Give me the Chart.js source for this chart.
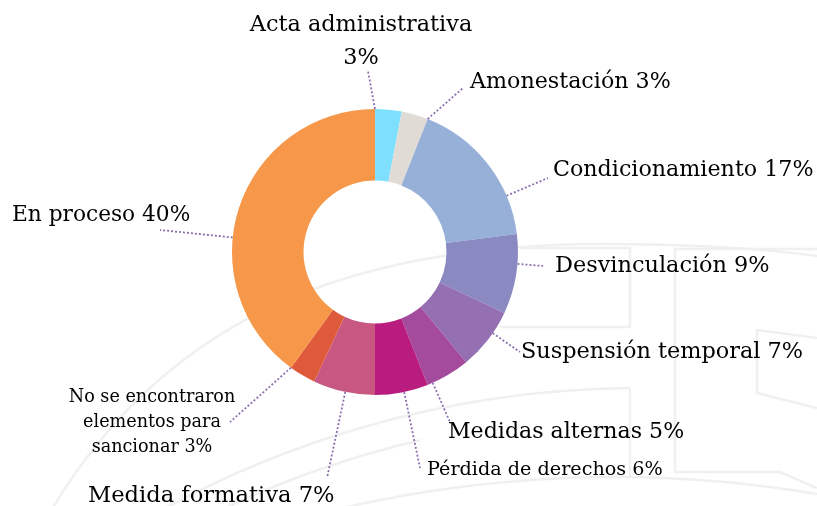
<!DOCTYPE html>
<html>
<head>
<meta charset="utf-8">
<script src="https://cdn.jsdelivr.net/npm/chart.js@4"></script>
<style>
  html, body { margin: 0; padding: 0; background: #fff; }
  #wrap { width: 817px; height: 506px; }
</style>
</head>
<body>
<div id="wrap"><canvas id="sancionesChart"></canvas></div>
<script>
const categorias = [
    "Acta administrativa",
    "Amonestación",
    "Condicionamiento",
    "Desvinculación",
    "Suspensión temporal",
    "Medidas alternas",
    "Pérdida de derechos",
    "Medida formativa",
    "No se encontraron elementos para sancionar",
    "En proceso",
];
const porcentajes = [3, 3, 17, 9, 7, 5, 6, 7, 3, 40];

const colores = [
    "#7fdffe", "#e0dcd5", "#97b0d8", "#8a89c2", "#946fb2",
    "#a44b9e", "#b81c7e", "#c85782", "#de5a3b", "#f69749",
];

// how each label is written and where it sits (x, y of the text, align, size, end of the leader line)
const etiquetas = [
    { lines: ["Acta administrativa", "3%"], x: 361, y: 25, lh: 33, align: "center", size: 22.4, end: [368, 71] },
    { lines: ["Amonestación 3%"], x: 470, y: 82, align: "left", size: 22.2, end: [463, 88] },
    { lines: ["Condicionamiento 17%"], x: 553, y: 170, align: "left", size: 22.2, end: [548, 178] },
    { lines: ["Desvinculación 9%"], x: 555, y: 266, align: "left", size: 22.4, end: [543, 266] },
    { lines: ["Suspensión temporal 7%"], x: 521, y: 352, align: "left", size: 22.4, end: [520, 352] },
    { lines: ["Medidas alternas 5%"], x: 448, y: 432, align: "left", size: 22.1, end: [450, 422] },
    { lines: ["Pérdida de derechos 6%"], x: 427, y: 470, align: "left", size: 19.2, end: [420, 468] },
    { lines: ["Medida formativa 7%"], x: 88, y: 496, align: "left", size: 22.6, end: [327, 478] },
    { lines: ["No se encontraron", "elementos para", "sancionar 3%"], x: 152, y: 397, lh: 25, align: "center", size: 17.6, end: [230, 422] },
    { lines: ["En proceso 40%"], x: 12, y: 215, align: "left", size: 21.7, end: [160, 230] },
];

const fuente = "'DejaVu Serif', serif";

// faint logo in the background
const fondo = {
    id: "fondo",
    beforeDraw(chart) {
        const ctx = chart.ctx;
        ctx.save();
        ctx.strokeStyle = "#f0f0f0";
        ctx.lineWidth = 2.5;
        ctx.lineJoin = "round";

        // long sweeping curve from lower left up through the ring
        ctx.beginPath();
        ctx.moveTo(40, 530);
        ctx.bezierCurveTo(150, 330, 330, 245, 600, 244);
        ctx.quadraticCurveTo(740, 244, 830, 258);
        ctx.stroke();

        // concentric arcs in the lower part
        const arco = (cx, cy, r, x0, x1) => {
            const a0 = Math.PI + Math.acos((cx - x0) / r);
            const a1 = Math.PI + Math.acos((cx - x1) / r);
            ctx.beginPath();
            ctx.arc(cx, cy, r, Math.min(a0, a1), Math.max(a0, a1));
            ctx.stroke();
        };
        arco(640, 1385, 997, 110, 630);
        arco(640, 1385, 970, 190, 420);
        arco(615, 1689, 1212, 120, 817);

        const trazos = [
            [[520, 248], [630, 248], [630, 327], [500, 327]],
            [[817, 249], [675, 249], [675, 472], [780, 472], [817, 488]],
            [[817, 338], [757, 330], [757, 393], [817, 408]],
            [[630, 389], [630, 478]],
        ];
        trazos.forEach((pts) => {
            ctx.beginPath();
            pts.forEach(([x, y], i) => (i ? ctx.lineTo(x, y) : ctx.moveTo(x, y)));
            ctx.stroke();
        });
        ctx.restore();
    },
};

// labels outside the ring with dotted leader lines
const rotulos = {
    id: "rotulos",
    afterDatasetsDraw(chart) {
        const ctx = chart.ctx;
        const arcs = chart.getDatasetMeta(0).data;
        ctx.save();
        arcs.forEach((arc, i) => {
            const e = etiquetas[i];
            const { x, y, startAngle, endAngle, outerRadius } = arc.getProps(
                ["x", "y", "startAngle", "endAngle", "outerRadius"], true);
            // nearest point of the slice edge to the end of the leader
            let a = Math.atan2(e.end[1] - y, e.end[0] - x);
            while (a < startAngle) a += 2 * Math.PI;
            while (a > startAngle + 2 * Math.PI) a -= 2 * Math.PI;
            if (a > endAngle) {
                const dEnd = a - endAngle;
                const dStart = startAngle + 2 * Math.PI - a;
                a = dEnd < dStart ? endAngle : startAngle;
            }
            const sx = x + Math.cos(a) * outerRadius;
            const sy = y + Math.sin(a) * outerRadius;
            ctx.strokeStyle = "#8a70b0";
            ctx.lineWidth = 1.8;
            ctx.setLineDash([2, 2]);
            ctx.beginPath();
            ctx.moveTo(sx, sy);
            ctx.lineTo(e.end[0], e.end[1]);
            ctx.stroke();

            ctx.setLineDash([]);
            ctx.fillStyle = "#000000";
            ctx.font = e.size + "px " + fuente;
            ctx.textAlign = e.align;
            ctx.textBaseline = "middle";
            e.lines.forEach((t, k) => ctx.fillText(t, e.x, e.y + k * (e.lh || 0)));
        });
        ctx.restore();
    },
};

new Chart(document.getElementById("sancionesChart"), {
    type: "doughnut",
    data: {
        labels: categorias,
        datasets: [
            {
                data: porcentajes,
                backgroundColor: colores,
                borderWidth: 0,
            },
        ],
    },
    options: {
        responsive: true,
        maintainAspectRatio: false,
        animation: false,
        cutout: "50%",
        layout: {
            padding: { left: 232, right: 299, top: 109, bottom: 111 },
        },
        plugins: {
            legend: { display: false },
            tooltip: { enabled: false },
        },
    },
    plugins: [fondo, rotulos],
});
</script>
</body>
</html>
